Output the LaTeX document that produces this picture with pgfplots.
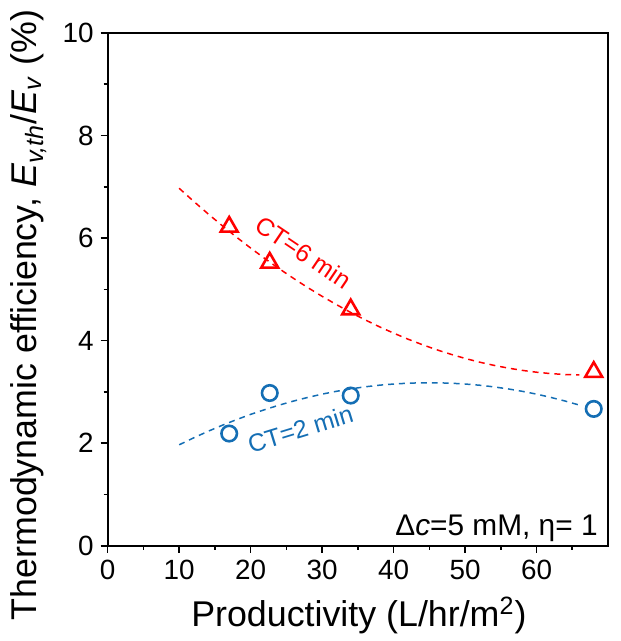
\documentclass[border=0pt]{standalone}
\usepackage{fontspec}
\setmainfont{Liberation Sans}
\usepackage{pgfplots}
\pgfplotsset{compat=1.18}
\definecolor{ctred}{RGB}{255,0,0}
\definecolor{ctblue}{RGB}{20,110,180}

\begin{document}
\begin{tikzpicture}
\begin{axis}[
  scale only axis, width=251.6pt, height=258pt,
  xmin=0, xmax=70, ymin=0, ymax=10,
  xtick={0,10,...,60}, ytick={0,2,...,10},
  minor xtick={5,15,...,65}, minor ytick={1,3,...,9},
  tick pos=left, tick align=outside,
  major tick length=3.5pt, minor tick length=2pt,
  axis line style={line width=0.85pt},
  every tick/.style={black, line width=0.8pt},
  tick label style={font=\fontsize{14}{16}\selectfont},
  /pgf/number format/assume math mode=true,
  xlabel={Productivity (L/hr/m\textsuperscript{2})},
  ylabel={Thermodynamic efficiency, \textit{E}\textsubscript{\textit{v,th}}/\textit{E}\textsubscript{\textit{v}} (\%)},
  label style={font=\fontsize{18}{21}\selectfont},
  xlabel style={at={(axis description cs:0.502,-0.136)}, anchor=center},
  ylabel style={at={(axis description cs:-0.158,0.45)}, anchor=center},
]
% fitted trend, CT = 6 min
\addplot[ctred, line width=0.75pt, dash pattern=on 3pt off 2.5pt] coordinates {
(10,6.970) (12,6.719) (14,6.477) (16,6.244) (18,6.020) (20,5.805) (22,5.599)
(24,5.402) (26,5.214) (28,5.034) (30,4.864) (32,4.703) (34,4.550) (36,4.407)
(38,4.272) (40,4.147) (42,4.030) (44,3.923) (46,3.824) (48,3.735) (50,3.654)
(52,3.582) (54,3.520) (56,3.466) (58,3.421) (60,3.385) (62,3.358) (64,3.340)
(66,3.331)};
% fitted trend, CT = 2 min
\addplot[ctblue, line width=0.75pt, dash pattern=on 3pt off 2.5pt] coordinates {
(10,1.970) (12,2.104) (14,2.231) (16,2.349) (18,2.460) (20,2.563) (22,2.657)
(24,2.744) (26,2.823) (28,2.894) (30,2.958) (32,3.013) (34,3.060) (36,3.100)
(38,3.132) (40,3.155) (42,3.171) (44,3.179) (46,3.179) (48,3.171) (50,3.155)
(52,3.132) (54,3.100) (56,3.060) (58,3.013) (60,2.958) (62,2.894) (64,2.823)
(66,2.744)};
% measured points
\addplot[only marks, ctred, mark=triangle, mark size=4.9pt, mark options={line width=1.3pt}] coordinates {
(17,6.22) (22.67,5.52) (34,4.61) (68,3.39)};
\addplot[only marks, ctblue, mark=o, mark size=3.9pt, mark options={line width=1.3pt}] coordinates {
(17,2.19) (22.67,2.98) (34,2.93) (68,2.67)};
\node[ctred, rotate=-34, font=\fontsize{12.5}{15}\selectfont] at (axis cs:27.4,5.72) {CT=6 min};
\node[ctblue, rotate=17, font=\fontsize{12.5}{15}\selectfont] at (axis cs:26.95,2.28) {CT=2 min};
\node[anchor=base east, inner sep=0pt, font=\fontsize{15}{18}\selectfont] at (axis cs:68.6,0.21) {Δ\textit{c}=5 mM, η= 1};
\end{axis}
\path[use as bounding box] ([shift={(-54.15pt,-46pt)}]current axis.south west) rectangle ([shift={(6.25pt,16.5pt)}]current axis.north east);
\end{tikzpicture}
\end{document}
